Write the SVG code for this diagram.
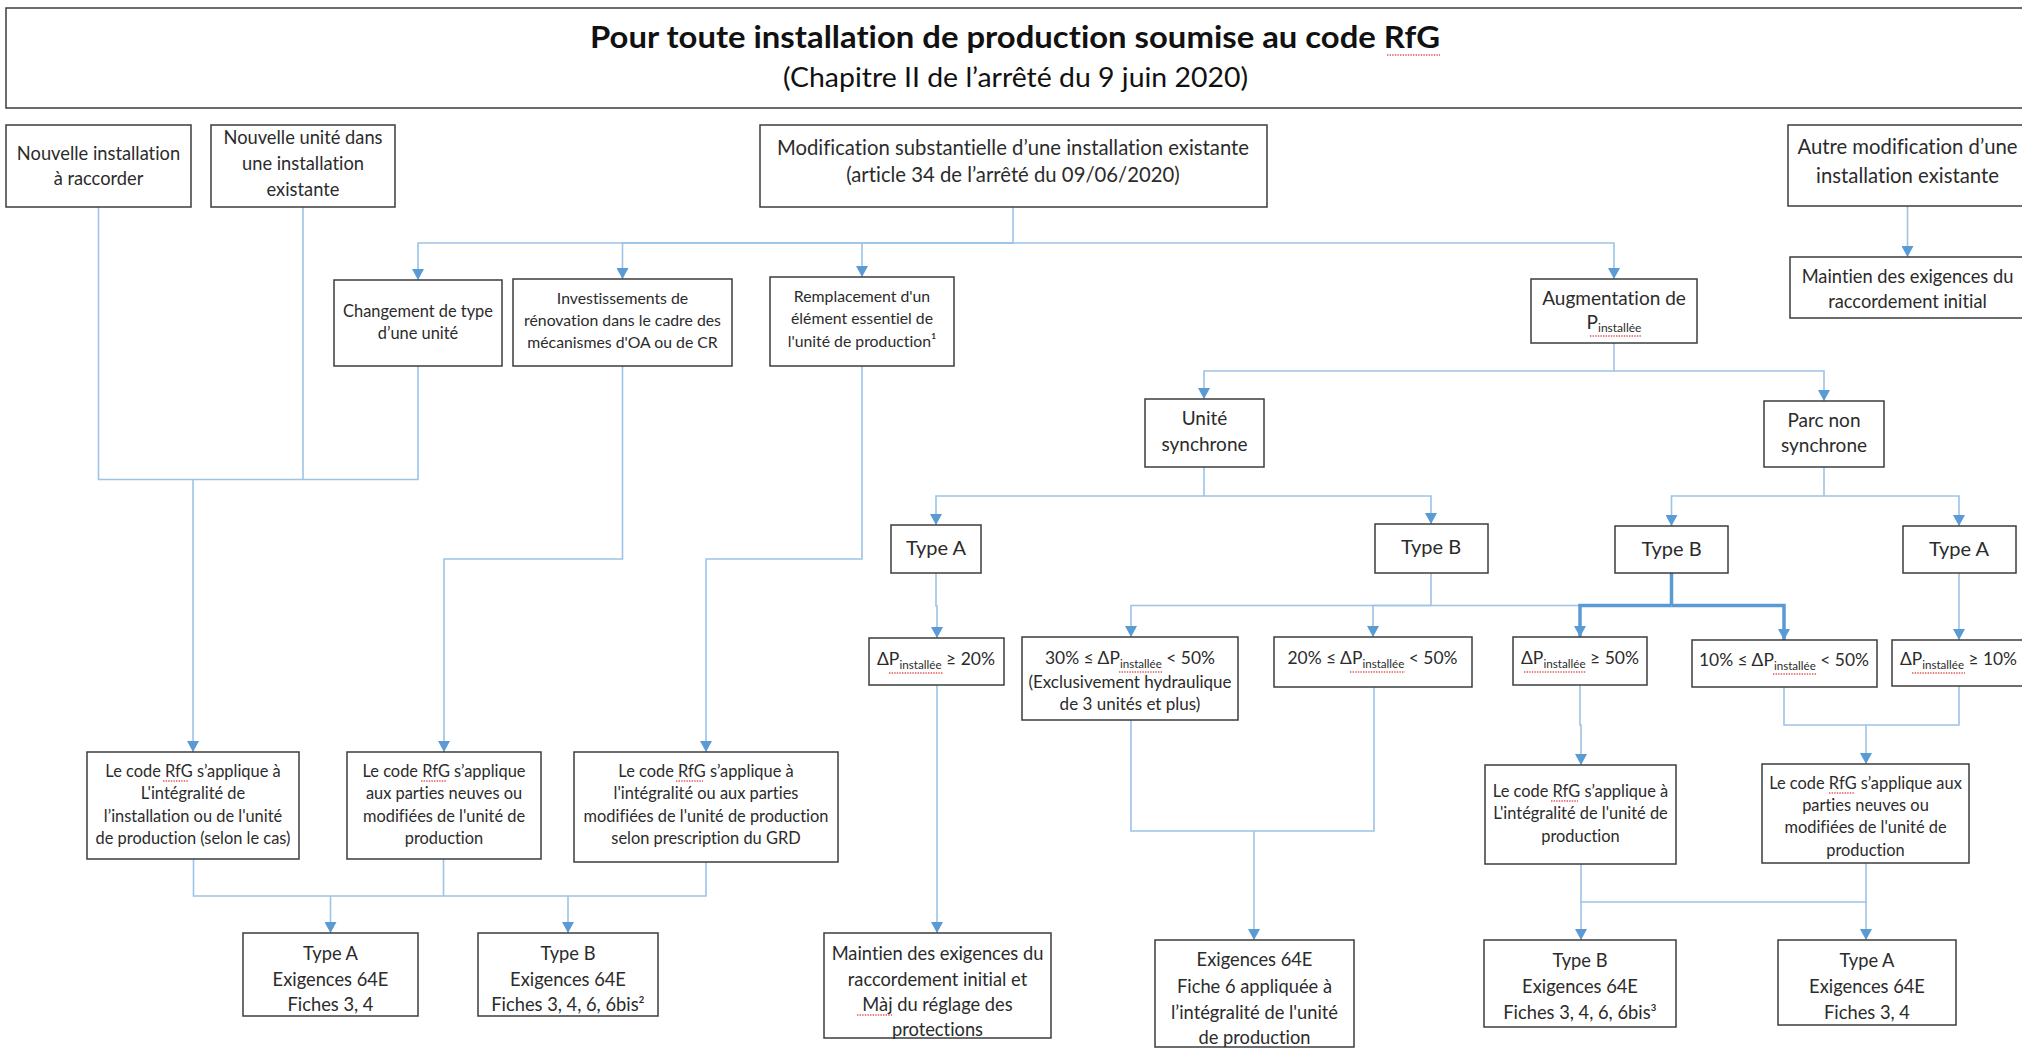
<svg xmlns="http://www.w3.org/2000/svg" width="2022" height="1048" viewBox="0 0 2022 1048">
<style>
text{font-family:Lato,"Open Sans","Liberation Sans",sans-serif;fill:#2b2b2b;text-anchor:middle;font-variant-ligatures:none}
.b{fill:#fff;stroke:#3c3c3c;stroke-width:1.5}
.t15{font-size:15.8px}
.t16{font-size:16.4px}
.t18{font-size:18.3px}
.t19{font-size:19px}
.t20{font-size:20px}
.t20r{font-size:20.3px}
.dp{font-size:18px}
.sub{font-size:12px}
.ln{fill:none;stroke:#9DC3E6;stroke-width:1.6}
.lk{fill:none;stroke:#5B9BD5;stroke-width:3.5}
.ttl{font-size:31px;font-weight:bold;fill:#111}
.stl{font-size:27px;fill:#111}
.sq{stroke:#e05555;stroke-width:1.4;stroke-dasharray:1.4 1.2;fill:none}
</style>
<defs>
<marker id="ar" markerUnits="userSpaceOnUse" markerWidth="12" markerHeight="12" viewBox="0 0 12 12" refX="11" refY="6" orient="auto">
<path d="M0,0 L11,6 L0,12 z" fill="#5B9BD5"/>
</marker>
</defs>

<g id="title">
<rect class="b" x="6" y="8" width="2030" height="100"/>
<text class="ttl" x="1015" y="48" textLength="850" lengthAdjust="spacingAndGlyphs">Pour toute installation de production soumise au code RfG</text>
<text class="stl" x="1015.5" y="87" textLength="465" lengthAdjust="spacingAndGlyphs">(Chapitre II de l’arrêté du 9 juin 2020)</text>
</g>

<g id="connectors">
<path class="ln" d="M1013,207 V243"/>
<path class="ln" d="M1013,243 H418 V280" marker-end="url(#ar)"/>
<path class="ln" d="M1013,243 H622.5 V279" marker-end="url(#ar)"/>
<path class="ln" d="M1013,243 H862 V277" marker-end="url(#ar)"/>
<path class="ln" d="M1013,243 H1614 V279" marker-end="url(#ar)"/>
<path class="ln" d="M1907.5,206 V257" marker-end="url(#ar)"/>
<path class="ln" d="M1614,343 V371"/>
<path class="ln" d="M1614,371 H1204 V399" marker-end="url(#ar)"/>
<path class="ln" d="M1614,371 H1824 V401" marker-end="url(#ar)"/>
<path class="ln" d="M1204,467 V496"/>
<path class="ln" d="M1204,496 H936 V525" marker-end="url(#ar)"/>
<path class="ln" d="M1204,496 H1431 V524" marker-end="url(#ar)"/>
<path class="ln" d="M1824,467 V496"/>
<path class="ln" d="M1824,496 H1671.5 V526" marker-end="url(#ar)"/>
<path class="ln" d="M1824,496 H1959 V526" marker-end="url(#ar)"/>
<path class="ln" d="M936,573 V606 H937 V638" marker-end="url(#ar)"/>
<path class="ln" d="M1431,573 V605.5 H1580"/>
<path class="ln" d="M1431,605.5 H1131 V637" marker-end="url(#ar)"/>
<path class="ln" d="M1431,605.5 H1373 V637" marker-end="url(#ar)"/>
<path class="lk" d="M1671.5,573 V605.5"/>
<path class="lk" d="M1671.5,605.5 H1580 V637" marker-end="url(#ar)"/>
<path class="lk" d="M1671.5,605.5 H1784 V640" marker-end="url(#ar)"/>
<path class="ln" d="M1959,573 V640" marker-end="url(#ar)"/>
<path class="ln" d="M937,685 V933" marker-end="url(#ar)"/>
<path class="ln" d="M1131,720 V831 H1374 V687"/>
<path class="ln" d="M1254,831 V940" marker-end="url(#ar)"/>
<path class="ln" d="M1580,685 V725 H1581 V765" marker-end="url(#ar)"/>
<path class="ln" d="M1784,687 V725 H1959 V686"/>
<path class="ln" d="M1866,725 V764" marker-end="url(#ar)"/>
<path class="ln" d="M1581,864 V902 H1866 V863"/>
<path class="ln" d="M1581,902 V940" marker-end="url(#ar)"/>
<path class="ln" d="M1866,902 V940" marker-end="url(#ar)"/>
<path class="ln" d="M98.5,207 V479.5 H418 V366"/>
<path class="ln" d="M303,207 V479.5"/>
<path class="ln" d="M193,479.5 V752" marker-end="url(#ar)"/>
<path class="ln" d="M622.5,366 V559 H444 V752" marker-end="url(#ar)"/>
<path class="ln" d="M862,366 V559 H706 V752" marker-end="url(#ar)"/>
<path class="ln" d="M193.5,859 V896 H706 V862"/>
<path class="ln" d="M443.5,859 V896"/>
<path class="ln" d="M330.5,896 V933" marker-end="url(#ar)"/>
<path class="ln" d="M568,896 V933" marker-end="url(#ar)"/>
</g>

<g id="n1"><rect class="b" x="6" y="125" width="185" height="82"/>
<text class="t18" x="98.5" y="160">Nouvelle installation</text><text class="t18" x="98.5" y="185">à raccorder</text></g>
<g id="n2"><rect class="b" x="211" y="125" width="184" height="82"/>
<text class="t18" x="303" y="144">Nouvelle unité dans</text><text class="t18" x="303" y="170">une installation</text><text class="t18" x="303" y="196">existante</text></g>
<g id="n3"><rect class="b" x="760" y="125" width="507" height="82"/>
<text class="t20r" x="1013" y="155">Modification substantielle d’une installation existante</text><text class="t20r" x="1013" y="182">(article 34 de l’arrêté du 09/06/2020)</text></g>
<g id="n4"><rect class="b" x="1788" y="125" width="240" height="81"/>
<text class="t20r" x="1907.5" y="154">Autre modification d’une</text><text class="t20r" x="1907.5" y="183">installation existante</text></g>
<g id="n5"><rect class="b" x="1790" y="257" width="240" height="61"/>
<text class="t18" x="1907.5" y="283">Maintien des exigences du</text><text class="t18" x="1907.5" y="308">raccordement initial</text></g>
<g id="n6"><rect class="b" x="334" y="280" width="168" height="86"/>
<text class="t16" x="418" y="317">Changement de type</text><text class="t16" x="418" y="339">d’une unité</text></g>
<g id="n7"><rect class="b" x="513" y="279" width="219" height="87"/>
<text class="t15" x="622.5" y="304">Investissements de</text><text class="t15" x="622.5" y="326">rénovation dans le cadre des</text><text class="t15" x="622.5" y="348">mécanismes d'OA ou de CR</text></g>
<g id="n8"><rect class="b" x="770" y="277" width="184" height="89"/>
<text class="t15" x="862" y="302">Remplacement d'un</text><text class="t15" x="862" y="324">élément essentiel de</text><text class="t15" x="862" y="347">l'unité de production¹</text></g>
<g id="n9"><rect class="b" x="1531" y="279" width="166" height="64"/>
<text class="t19" x="1614" y="305">Augmentation de</text><text class="t19" x="1614" y="329">P<tspan class="sub" dy="3">installée</tspan></text></g>
<g id="n10"><rect class="b" x="1145" y="399" width="119" height="68"/>
<text class="t19" x="1204.5" y="425">Unité</text><text class="t19" x="1204.5" y="451">synchrone</text></g>
<g id="n11"><rect class="b" x="1764" y="401" width="120" height="66"/>
<text class="t19" x="1824" y="427">Parc non</text><text class="t19" x="1824" y="452">synchrone</text></g>
<g id="n12"><rect class="b" x="891" y="525" width="90" height="48"/><text class="t20" x="936" y="555">Type A</text></g>
<g id="n13"><rect class="b" x="1375" y="524" width="113" height="49"/><text class="t20" x="1431" y="554">Type B</text></g>
<g id="n14"><rect class="b" x="1615" y="526" width="113" height="47"/><text class="t20" x="1671.5" y="556">Type B</text></g>
<g id="n15"><rect class="b" x="1903" y="526" width="113" height="47"/><text class="t20" x="1959" y="556">Type A</text></g>
<g id="n16"><rect class="b" x="869" y="638" width="135" height="47"/>
<text class="dp" x="936" y="665" textLength="118" lengthAdjust="spacingAndGlyphs">ΔP<tspan class="sub" dy="4">installée</tspan><tspan dy="-4"> ≥ 20%</tspan></text></g>
<g id="n17"><rect class="b" x="1022" y="637" width="216" height="83"/>
<text class="dp" x="1130" y="664" textLength="170" lengthAdjust="spacingAndGlyphs">30% ≤ ΔP<tspan class="sub" dy="4">installée</tspan><tspan dy="-4"> &lt; 50%</tspan></text>
<text class="t18" x="1130" y="688" style="font-size:17px">(Exclusivement hydraulique</text><text class="t18" x="1130" y="710" style="font-size:17px">de 3 unités et plus)</text></g>
<g id="n18"><rect class="b" x="1274" y="637" width="198" height="50"/>
<text class="dp" x="1372.5" y="664" textLength="170" lengthAdjust="spacingAndGlyphs">20% ≤ ΔP<tspan class="sub" dy="4">installée</tspan><tspan dy="-4"> &lt; 50%</tspan></text></g>
<g id="n19"><rect class="b" x="1513" y="637" width="134" height="48"/>
<text class="dp" x="1580" y="664" textLength="118" lengthAdjust="spacingAndGlyphs">ΔP<tspan class="sub" dy="4">installée</tspan><tspan dy="-4"> ≥ 50%</tspan></text></g>
<g id="n20"><rect class="b" x="1692" y="640" width="185" height="47"/>
<text class="dp" x="1784" y="666" textLength="170" lengthAdjust="spacingAndGlyphs">10% ≤ ΔP<tspan class="sub" dy="4">installée</tspan><tspan dy="-4"> &lt; 50%</tspan></text></g>
<g id="n21"><rect class="b" x="1892" y="640" width="140" height="46"/>
<text class="dp" x="1958.5" y="665" textLength="117" lengthAdjust="spacingAndGlyphs">ΔP<tspan class="sub" dy="4">installée</tspan><tspan dy="-4"> ≥ 10%</tspan></text></g>
<g id="n22"><rect class="b" x="87" y="752" width="212" height="107"/>
<text class="t16" x="193" y="777">Le code RfG s’applique à</text><text class="t16" x="193" y="799">L'intégralité de</text><text class="t16" x="193" y="822">l’installation ou de l'unité</text><text class="t16" x="193" y="844">de production (selon le cas)</text></g>
<g id="n23"><rect class="b" x="347" y="752" width="194" height="107"/>
<text class="t16" x="444" y="777">Le code RfG s’applique</text><text class="t16" x="444" y="799">aux parties neuves ou</text><text class="t16" x="444" y="822">modifiées de l'unité de</text><text class="t16" x="444" y="844">production</text></g>
<g id="n24"><rect class="b" x="574" y="752" width="264" height="110"/>
<text class="t16" x="706" y="777">Le code RfG s’applique à</text><text class="t16" x="706" y="799">l'intégralité ou aux parties</text><text class="t16" x="706" y="822">modifiées de l'unité de production</text><text class="t16" x="706" y="844">selon prescription du GRD</text></g>
<g id="n25"><rect class="b" x="1485" y="765" width="191" height="99"/>
<text class="t16" x="1580.5" y="797">Le code RfG s’applique à</text><text class="t16" x="1580.5" y="819">L'intégralité de l'unité de</text><text class="t16" x="1580.5" y="842">production</text></g>
<g id="n26"><rect class="b" x="1762" y="764" width="207" height="99"/>
<text class="t16" x="1865.5" y="789">Le code RfG s’applique aux</text><text class="t16" x="1865.5" y="811">parties neuves ou</text><text class="t16" x="1865.5" y="833">modifiées de l'unité de</text><text class="t16" x="1865.5" y="856">production</text></g>
<g id="n27"><rect class="b" x="243" y="933" width="175" height="83"/>
<text class="t18" x="330.5" y="960">Type A</text><text class="t18" x="330.5" y="986">Exigences 64E</text><text class="t18" x="330.5" y="1011">Fiches 3, 4</text></g>
<g id="n28"><rect class="b" x="478" y="933" width="180" height="83"/>
<text class="t18" x="568" y="960">Type B</text><text class="t18" x="568" y="986">Exigences 64E</text><text class="t18" x="568" y="1011">Fiches 3, 4, 6, 6bis²</text></g>
<g id="n29"><rect class="b" x="824" y="933" width="227" height="105"/>
<text class="t18" x="937.5" y="960">Maintien des exigences du</text><text class="t18" x="937.5" y="986">raccordement initial et</text><text class="t18" x="937.5" y="1011">Màj du réglage des</text><text class="t18" x="937.5" y="1036">protections</text></g>
<g id="n30"><rect class="b" x="1155" y="940" width="199" height="107"/>
<text class="t18" x="1254.5" y="966">Exigences 64E</text><text class="t18" x="1254.5" y="993">Fiche 6 appliquée à</text><text class="t18" x="1254.5" y="1019">l’intégralité de l'unité</text><text class="t18" x="1254.5" y="1044">de production</text></g>
<g id="n31"><rect class="b" x="1484" y="940" width="192" height="87"/>
<text class="t18" x="1580" y="967">Type B</text><text class="t18" x="1580" y="993">Exigences 64E</text><text class="t18" x="1580" y="1019">Fiches 3, 4, 6, 6bis³</text></g>
<g id="n32"><rect class="b" x="1778" y="940" width="178" height="85"/>
<text class="t18" x="1867" y="967">Type A</text><text class="t18" x="1867" y="993">Exigences 64E</text><text class="t18" x="1867" y="1019">Fiches 3, 4</text></g>

<g id="spellcheck">
<path class="sq" d="M1387,55 H1440"/>
<path class="sq" d="M1590,336 H1642"/>
<path class="sq" d="M889,673 H943"/>
<path class="sq" d="M1119,672 H1162"/>
<path class="sq" d="M1350,672 H1405"/>
<path class="sq" d="M1524,672 H1586"/>
<path class="sq" d="M1773,674 H1816"/>
<path class="sq" d="M1912,673 H1965"/>
<path class="sq" d="M163,781 H189"/>
<path class="sq" d="M421,781 H447"/>
<path class="sq" d="M676,781 H703"/>
<path class="sq" d="M1551,801 H1578"/>
<path class="sq" d="M1829,793 H1855"/>
<path class="sq" d="M857,1015 H892"/>
</g>
</svg>
